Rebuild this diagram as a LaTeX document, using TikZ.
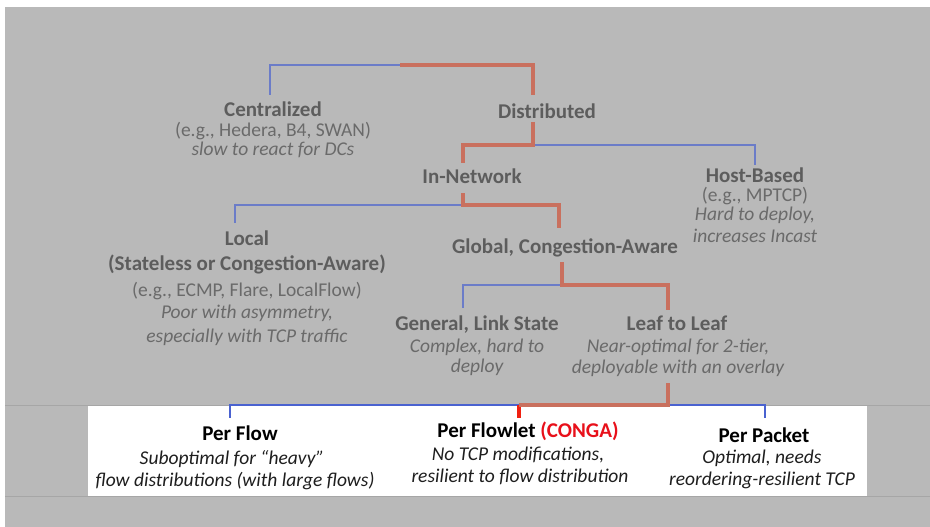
\documentclass[tikz,border=0pt]{standalone}
\usepackage{fontspec}
\setmainfont{Carlito}
\definecolor{bg}{HTML}{B9B9B9}
\definecolor{sepc}{HTML}{A6A6A6}
\definecolor{tgray}{HTML}{5D5D5D}
\definecolor{sgray}{HTML}{6A6A6A}
\definecolor{bluec}{HTML}{6B7CC8}
\definecolor{bluebr}{HTML}{4A62D0}
\definecolor{redc}{HTML}{C9705E}
\definecolor{redbr}{HTML}{F02010}
\definecolor{congared}{HTML}{E8101A}
\definecolor{itdark}{HTML}{1E1E1E}
\tikzset{
  ttl/.style={anchor=base, inner sep=0pt, text=tgray, font=\fontsize{21}{21}\selectfont\bfseries},
  sub/.style={anchor=base, inner sep=0pt, text=sgray, font=\fontsize{19.5}{19.5}\selectfont},
  subit/.style={anchor=base, inner sep=0pt, text=sgray, font=\fontsize{19.5}{19.5}\selectfont\itshape},
  bttl/.style={anchor=base, inner sep=0pt, text=black, font=\fontsize{21}{21}\selectfont\bfseries},
  bit/.style={anchor=base, inner sep=0pt, text=itdark, font=\fontsize{19.5}{19.5}\selectfont\itshape},
  blu/.style={draw=bluec, line width=1.3pt},
  blubr/.style={draw=bluebr, line width=1.3pt},
  redl/.style={draw=redc, line width=3.6pt, line join=miter},
  redbrl/.style={draw=redbr, line width=3.6pt},
}
\begin{document}
\begin{tikzpicture}[x=1pt,y=-1pt]
\useasboundingbox (0,0) rectangle (930,527);
\fill[white] (0,0) rectangle (930,527);
\fill[bg] (5,7) rectangle (930,527);
\draw[sepc, line width=1pt] (5,405) -- (930,405);
\draw[sepc, line width=1pt] (5,496) -- (930,496);
\fill[white] (88,405.5) rectangle (867,495.5);

% level 1
\node[ttl] (cenT) at (273,117) {Centralized};
\node[sub] (cen1) at (273,136) {(e.g., Hedera, B4, SWAN)};
\node[subit] (cen2) at (273,155) {slow to react for DCs};
\node[ttl] (disT) at (547,118) {Distributed};

% level 2
\node[ttl] (innT) at (472,183) {In-Network};
\node[ttl] (hosT) at (755,182) {Host-Based};
\node[sub] (hos1) at (755,201) {(e.g., MPTCP)};
\node[subit] (hos2) at (755,220) {Hard to deploy,};
\node[subit] (hos3) at (755,242) {increases Incast};

% level 3
\node[ttl] (locT) at (247,245) {Local};
\node[ttl] (loc1) at (247,270) {(Stateless or Congestion-Aware)};
\node[sub] (loc2) at (247,296) {(e.g., ECMP, Flare, LocalFlow)};
\node[subit] (loc3) at (247,318) {Poor with asymmetry,};
\node[subit] (loc4) at (247,342) {especially with TCP traffic};
\node[ttl] (gloT) at (565,253) {Global, Congestion-Aware};

% level 4
\node[ttl] (genT) at (477,330) {General, Link State};
\node[subit] (gen1) at (477,352) {Complex, hard to};
\node[subit] (gen2) at (477,372) {deploy};
\node[ttl] (leaT) at (677,330) {Leaf to Leaf};
\node[subit] (lea1) at (678,352) {Near-optimal for 2-tier,};
\node[subit] (lea2) at (678,373) {deployable with an overlay};

% level 5
\node[bttl] (pfT) at (240,440) {Per Flow};
\node[bit] (pf1) at (232,464) {Suboptimal for “heavy”};
\node[bit] (pf2) at (235,486) {flow distributions (with large flows)};
\node[bttl] (fltT) at (528,437) {Per Flowlet \textcolor{congared}{(CONGA)}};
\node[bit] (flt1) at (518,460) {No TCP modifications,};
\node[bit] (flt2) at (520,482) {resilient to flow distribution};
\node[bttl] (ppT) at (764,442) {Per Packet};
\node[bit] (pp1) at (762,463) {Optimal, needs};
\node[bit] (pp2) at (762,485) {reordering-resilient TCP};

% connector coordinates
\coordinate (c0) at (400,65);
\coordinate (cenIn) at (270,95);
\coordinate (disIn) at (533,95);
\coordinate (disOut) at (533,122);
\coordinate (c1) at (533,145);
\coordinate (innIn) at (463,163);
\coordinate (hosIn) at (755,165);
\coordinate (innOut) at (463,193);
\coordinate (c2) at (463,205);
\coordinate (locIn) at (235,223);
\coordinate (gloIn) at (559,228);
\coordinate (gloOut) at (562,262);
\coordinate (c3) at (562,285);
\coordinate (genIn) at (463,308);
\coordinate (leaIn) at (668,310);
\coordinate (leaOut) at (668,383);
\coordinate (c4) at (668,405);
\coordinate (c5) at (519,405);
\coordinate (pfIn) at (230,418);
\coordinate (fltIn) at (519,418);
\coordinate (ppIn) at (765,418);

% connectors
\draw[blu] (cenIn) |- (c0);
\draw[redl] (c0) -| (disIn);
\draw[blu] (c1) -| (hosIn);
\draw[redl] (disOut) |- (c1) -| (innIn);
\draw[blu] (c2) -| (locIn);
\draw[redl] (innOut) |- (c2) -| (gloIn);
\draw[blu] (c3) -| (genIn);
\draw[redl] (gloOut) |- (c3) -| (leaIn);
\draw[blubr] (c5) -| (pfIn);
\draw[blubr] (c4) -| (ppIn);
\draw[redbrl] (c5) -- (fltIn);
\draw[redl] (leaOut) |- (c5);
\end{tikzpicture}
\end{document}
